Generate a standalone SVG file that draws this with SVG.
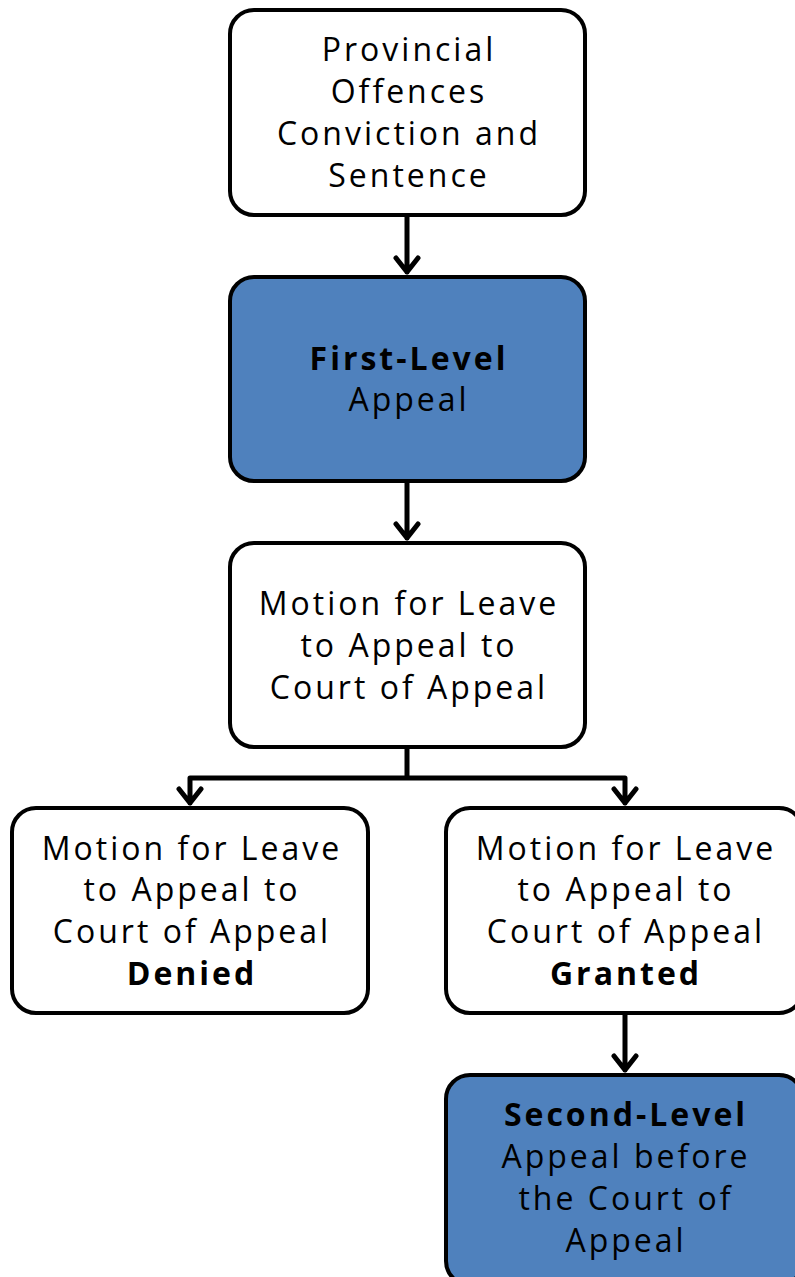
<svg xmlns="http://www.w3.org/2000/svg" width="795" height="1277" viewBox="0 0 795 1277">
<style>
.box{stroke:#000;stroke-width:4;}
.w{fill:#fff;}
.b{fill:#4f81bd;}
text{font-family:"Open Sans","Noto Sans",sans-serif;font-size:32px;letter-spacing:3px;fill:#000;text-anchor:middle;}
.bold{font-weight:bold;}
.conn{fill:none;stroke:#000;stroke-width:5;stroke-linecap:round;stroke-linejoin:round;}
</style>
<rect width="795" height="1277" fill="#fff"/>
<g id="n1"><rect class="box w" x="230" y="10" width="355" height="205" rx="24"/>
<text x="409" y="61">Provincial</text><text x="409" y="103">Offences</text><text x="409" y="145">Conviction and</text><text x="409" y="187">Sentence</text></g>
<g id="n2"><rect class="box b" x="230" y="277" width="355" height="204" rx="24"/>
<text x="409" y="370" class="bold">First-Level</text><text x="409" y="411">Appeal</text></g>
<g id="n3"><rect class="box w" x="230" y="543" width="355" height="204" rx="24"/>
<text x="409" y="615">Motion for Leave</text><text x="409" y="657">to Appeal to</text><text x="409" y="699">Court of Appeal</text></g>
<g id="n4"><rect class="box w" x="12" y="808" width="356" height="205" rx="24"/>
<text x="192" y="860">Motion for Leave</text><text x="192" y="901">to Appeal to</text><text x="192" y="943">Court of Appeal</text><text x="192" y="985" class="bold">Denied</text></g>
<g id="n5"><rect class="box w" x="446" y="808" width="357" height="205" rx="24"/>
<text x="626" y="860">Motion for Leave</text><text x="626" y="901">to Appeal to</text><text x="626" y="943">Court of Appeal</text><text x="626" y="985" class="bold">Granted</text></g>
<g id="n6"><rect class="box b" x="446" y="1075" width="357" height="210" rx="24"/>
<text x="626" y="1126" class="bold">Second-Level</text><text x="626" y="1168">Appeal before</text><text x="626" y="1210">the Court of</text><text x="626" y="1252">Appeal</text></g>
<g id="connectors">
<path class="conn" d="M407 217V272M396 258L407 272L418 258"/>
<path class="conn" d="M407 483V538M396 524L407 538L418 524"/>
<path class="conn" d="M407 749V778M190 803V778H625V803M179 789L190 803L201 789M614 789L625 803L636 789"/>
<path class="conn" d="M625 1015V1070M614 1056L625 1070L636 1056"/>
</g>
</svg>
